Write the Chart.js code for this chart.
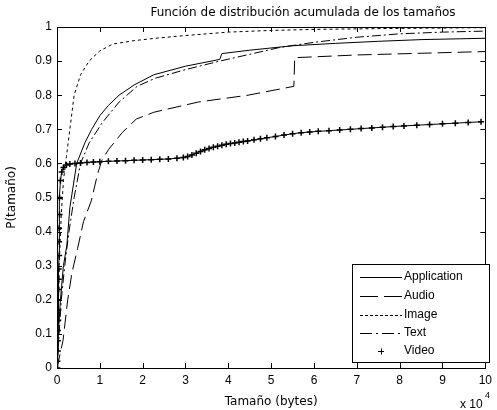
<!DOCTYPE html>
<html>
<head>
<meta charset="utf-8">
<script src="https://cdn.jsdelivr.net/npm/chart.js@4"></script>
<style>
  html, body { margin: 0; padding: 0; background: #fff; }
  canvas { display: block; }
</style>
</head>
<body>
<canvas id="cdf" width="497" height="410"></canvas>
<script>
// x values are in units of 10^4 bytes
const appX = [0, 0.03, 0.08, 0.15, 0.23, 0.3, 0.46, 0.65, 0.81, 1.0, 1.2, 1.45, 1.8, 2.26, 3.0, 3.8, 3.85, 4.5, 5.5, 6.5, 7.5, 8.5, 10];
const appY = [0, 0.1, 0.2, 0.3, 0.36, 0.47, 0.6, 0.66, 0.7, 0.74, 0.77, 0.8, 0.83, 0.86, 0.885, 0.905, 0.922, 0.932, 0.945, 0.952, 0.958, 0.963, 0.967];

const audioX = [0, 0.14, 0.25, 0.35, 0.48, 0.62, 0.8, 0.95, 1.05, 1.2, 1.52, 1.85, 2.26, 3.3, 4.46, 5.53, 5.55, 7, 8.5, 10];
const audioY = [0, 0.08, 0.2, 0.28, 0.35, 0.43, 0.49, 0.57, 0.61, 0.64, 0.69, 0.73, 0.75, 0.78, 0.8, 0.826, 0.91, 0.918, 0.923, 0.928];

const imageX = [0, 0.02, 0.05, 0.1, 0.15, 0.22, 0.3, 0.4, 0.55, 0.75, 1.0, 1.3, 1.8, 2.3, 3.0, 4.0, 5.0, 6.0, 8.0, 10];
const imageY = [0, 0.1, 0.3, 0.45, 0.55, 0.62, 0.7, 0.8, 0.86, 0.9, 0.93, 0.95, 0.96, 0.967, 0.975, 0.985, 0.99, 0.993, 0.996, 0.998];

const textX = [0, 0.05, 0.1, 0.18, 0.28, 0.4, 0.55, 0.75, 1.06, 1.45, 1.87, 2.3, 3.0, 3.8, 4.5, 5.2, 6.0, 7.0, 8.0, 9.0, 10];
const textY = [0, 0.1, 0.2, 0.3, 0.4, 0.5, 0.6, 0.66, 0.72, 0.78, 0.826, 0.85, 0.875, 0.9, 0.92, 0.94, 0.955, 0.97, 0.98, 0.985, 0.988];

const videoX = [
  0.01, 0.01, 0.02, 0.02, 0.02, 0.03, 0.03, 0.03, 0.04, 0.04,
  0.04, 0.05, 0.05, 0.05, 0.06, 0.06, 0.08, 0.11, 0.15, 0.22,
  0.3, 0.42, 0.55, 0.7, 0.85, 1.0, 1.2, 1.4, 1.6, 1.8,
  2.0, 2.2, 2.4, 2.6, 2.8, 2.95, 3.05, 3.15, 3.25, 3.35,
  3.45, 3.55, 3.65, 3.75, 3.85, 3.95, 4.05, 4.15, 4.25, 4.35,
  4.45, 4.6, 4.75, 4.9, 5.1, 5.3, 5.5, 5.7, 5.9, 6.1,
  6.35, 6.6, 6.85, 7.1, 7.35, 7.6, 7.85, 8.1, 8.4, 8.7,
  9.0, 9.3, 9.6, 9.9
];
const videoY = [
  0.0, 0.02, 0.05, 0.08, 0.11, 0.14, 0.17, 0.2, 0.23, 0.26,
  0.29, 0.33, 0.37, 0.41, 0.45, 0.5, 0.55, 0.575, 0.588, 0.595,
  0.598, 0.6, 0.601, 0.603, 0.604, 0.605, 0.606, 0.607, 0.608, 0.609,
  0.61, 0.611, 0.612, 0.613, 0.615, 0.617, 0.62, 0.625, 0.63, 0.635,
  0.64, 0.644, 0.647, 0.65, 0.653, 0.656, 0.658, 0.66, 0.662, 0.664,
  0.666, 0.669, 0.672, 0.675, 0.679, 0.683, 0.687, 0.69, 0.692, 0.694,
  0.696, 0.698, 0.7, 0.702, 0.704, 0.706, 0.708, 0.71, 0.712, 0.714,
  0.716, 0.718, 0.72, 0.722
];

const titleText = 'Función de distribución acumulada de los tamaños';
const xLabel = 'Tamaño (bytes)';
const yLabel = 'P(tamaño)';

const tickFont = '12px "Liberation Sans", Arial, sans-serif';
const labelFont = '12px "DejaVu Sans", Verdana, sans-serif';

const toPoints = (xs, ys) => xs.map((x, i) => ({ x, y: ys[i] }));

const lineSet = (label, xs, ys, dash, legendDash) => ({
  label,
  data: toPoints(xs, ys),
  showLine: true,
  borderColor: '#000',
  borderWidth: 1,
  borderDash: dash,
  legendDash: legendDash || dash,
  pointRadius: 0,
  fill: false,
});

const datasets = [
  lineSet('Application', appX, appY, []),
  lineSet('Audio', audioX, audioY, [14, 6], [18, 6]),
  lineSet('Image', imageX, imageY, [3, 3], [3, 2]),
  lineSet('Text', textX, textY, [9, 3, 2, 3], [12, 4, 2, 4]),
  {
    label: 'Video',
    data: toPoints(videoX, videoY),
    showLine: true,
    borderColor: '#000',
    backgroundColor: '#000',
    borderWidth: 1,
    pointStyle: 'cross',
    pointRadius: 3,
    pointBorderWidth: 1.5,
    legendMarker: true,
  },
];

// matlab-ish frame: box, inward ticks, title, labels, legend box
const matlabFrame = {
  id: 'matlabFrame',
  afterDraw(chart) {
    const { ctx, chartArea: a, scales } = chart;
    ctx.save();
    ctx.strokeStyle = '#000';
    ctx.lineWidth = 1;
    ctx.setLineDash([]);
    ctx.strokeRect(Math.round(a.left) + 0.5, Math.round(a.top) + 0.5,
      Math.round(a.right - a.left), Math.round(a.bottom - a.top));

    const len = 5;
    ctx.beginPath();
    scales.x.ticks.forEach((t) => {
      const px = Math.round(scales.x.getPixelForValue(t.value)) + 0.5;
      ctx.moveTo(px, a.bottom); ctx.lineTo(px, a.bottom - len);
      ctx.moveTo(px, a.top); ctx.lineTo(px, a.top + len);
    });
    scales.y.ticks.forEach((t) => {
      const py = Math.round(scales.y.getPixelForValue(t.value)) + 0.5;
      ctx.moveTo(a.left, py); ctx.lineTo(a.left + len, py);
      ctx.moveTo(a.right, py); ctx.lineTo(a.right - len, py);
    });
    ctx.stroke();

    ctx.fillStyle = '#000';
    ctx.font = labelFont;
    ctx.textAlign = 'center';
    ctx.textBaseline = 'middle';
    ctx.fillText(titleText, 303, 13);
    ctx.fillText(xLabel, (a.left + a.right) / 2, 402);
    ctx.save();
    ctx.translate(12, (a.top + a.bottom) / 2);
    ctx.rotate(-Math.PI / 2);
    ctx.fillText(yLabel, 0, 0);
    ctx.restore();

    // exponent label
    ctx.font = '12px "Liberation Sans", Arial, sans-serif';
    ctx.textAlign = 'left';
    ctx.fillText('x 10', 460, 405);
    ctx.font = '9px "Liberation Sans", Arial, sans-serif';
    ctx.fillText('4', 485, 396);

    // legend
    const box = { x: 352, y: 264, w: 137, h: 98 };
    ctx.fillStyle = '#fff';
    ctx.fillRect(box.x, box.y, box.w, box.h);
    ctx.strokeRect(box.x + 0.5, box.y + 0.5, box.w, box.h);
    const rowY = [277, 296, 315, 333, 351];
    ctx.font = tickFont;
    chart.data.datasets.forEach((ds, i) => {
      const y = rowY[i] + 0.5;
      ctx.strokeStyle = '#000';
      if (ds.legendMarker) {
        ctx.setLineDash([]);
        ctx.beginPath();
        ctx.moveTo(381 - 3, y); ctx.lineTo(381 + 3, y);
        ctx.moveTo(381.5, y - 3); ctx.lineTo(381.5, y + 3);
        ctx.stroke();
      } else {
        ctx.setLineDash(ds.legendDash);
        ctx.beginPath();
        ctx.moveTo(360, y); ctx.lineTo(402, y);
        ctx.stroke();
      }
      ctx.setLineDash([]);
      ctx.fillStyle = '#000';
      ctx.textAlign = 'left';
      ctx.fillText(ds.label, 404, rowY[i]);
    });
    ctx.restore();
  },
};

new Chart(document.getElementById('cdf'), {
  type: 'scatter',
  data: { datasets },
  options: {
    responsive: false,
    animation: false,
    layout: { padding: { top: 27, right: 7, left: 0, bottom: 0 } },
    plugins: { legend: { display: false }, tooltip: { enabled: false } },
    scales: {
      x: {
        type: 'linear',
        min: 0,
        max: 10,
        afterFit: (s) => { s.height = 42; },
        grid: { display: false, drawTicks: false },
        border: { display: false },
        ticks: { stepSize: 1, padding: 5, color: '#000', font: { family: '"Liberation Sans", Arial, sans-serif', size: 12 } },
      },
      y: {
        type: 'linear',
        min: 0,
        max: 1,
        afterFit: (s) => { s.width = 57; },
        grid: { display: false, drawTicks: false },
        border: { display: false },
        ticks: {
          stepSize: 0.1,
          padding: 5,
          color: '#000',
          font: { family: '"Liberation Sans", Arial, sans-serif', size: 12 },
          callback: (v) => String(Math.round(v * 10) / 10),
        },
      },
    },
  },
  plugins: [matlabFrame],
});
</script>
</body>
</html>
